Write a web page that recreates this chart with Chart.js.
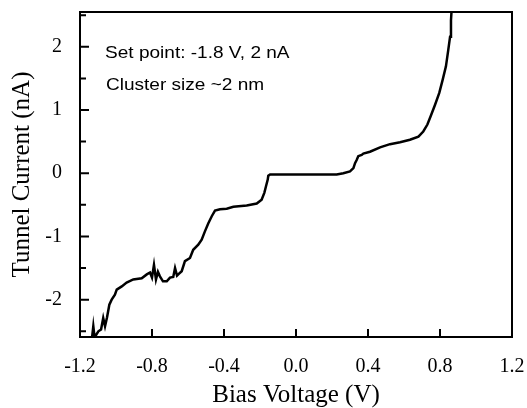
<!DOCTYPE html>
<html><head><meta charset="utf-8">
<script src="https://cdn.jsdelivr.net/npm/chart.js@4"></script>
<style>html,body{margin:0;padding:0;background:#fff}#wrap{width:527px;height:408px}</style>
</head><body><div id="wrap"><canvas id="c" width="527" height="408"></canvas></div>
<script>
const biasVoltage = [
 -1.135,-1.126,-1.118,-1.111,-1.098,-1.083,-1.071,-1.061,-1.050,-1.037,-1.024,-1.006,-0.996,-0.968,-0.941,-0.904,
 -0.857,-0.829,-0.811,-0.800,-0.789,-0.778,-0.767,-0.756,-0.739,-0.718,-0.700,-0.682,-0.672,-0.661,-0.654,-0.635,
 -0.617,-0.589,-0.571,-0.543,-0.524,-0.506,-0.487,-0.468,-0.450,-0.422,-0.385,-0.348,-0.274,-0.218,-0.191,-0.176,
 -0.167,-0.157,-0.154,-0.144,0.226,0.263,0.300,0.319,0.328,0.337,0.346,0.365,0.374,0.411,0.467,0.522,0.578,0.633,
 0.680,0.707,0.730,0.748,0.772,0.796,0.815,0.833,0.846,0.856,0.861,0.867
];
const tunnelCurrent = [
 -2.65,-2.42,-2.62,-2.56,-2.50,-2.47,-2.29,-2.42,-2.28,-2.08,-2.00,-1.92,-1.84,-1.79,-1.73,-1.68,
 -1.66,-1.60,-1.57,-1.65,-1.45,-1.68,-1.56,-1.63,-1.71,-1.71,-1.65,-1.64,-1.50,-1.62,-1.60,-1.55,
 -1.39,-1.34,-1.21,-1.13,-1.05,-0.92,-0.79,-0.68,-0.59,-0.57,-0.56,-0.53,-0.51,-0.48,-0.42,-0.31,
 -0.21,-0.10,-0.04,-0.02,-0.02,0.00,0.03,0.08,0.16,0.21,0.27,0.29,0.31,0.34,0.41,0.46,0.49,0.53,
 0.58,0.66,0.77,0.90,1.08,1.27,1.48,1.69,1.95,2.16,2.42,2.70
];
const xTickValues = [-1.2,-0.8,-0.4,0.0,0.4,0.8,1.2];
const yTickValues = [-2,-1,0,1,2];
const yMinorTickValues = [-2.5,-1.5,-0.5,0.5,1.5,2.5];
const noteLabels = ["Set point: -1.8 V, 2 nA","Cluster size ~2 nm"];
const noteX = [-1.061,-1.056];
const noteY = [1.82,1.32];

const serif = '"Liberation Serif","Times New Roman",serif';

const frameAndTicks = {
  id:'frameAndTicks',
  afterDraw(chart){
    const {ctx, chartArea:a, scales:{x,y}} = chart;
    ctx.save();
    ctx.strokeStyle='#000';
    ctx.lineWidth=2;
    ctx.strokeRect(a.left,a.top,a.right-a.left,a.bottom-a.top);
    ctx.beginPath();
    xTickValues.forEach(v=>{const p=x.getPixelForValue(v);ctx.moveTo(p,a.bottom);ctx.lineTo(p,a.bottom-8);});
    yTickValues.forEach(v=>{const p=y.getPixelForValue(v);ctx.moveTo(a.left,p);ctx.lineTo(a.left+9,p);});
    yMinorTickValues.forEach(v=>{const p=y.getPixelForValue(v);ctx.moveTo(a.left,p);ctx.lineTo(a.left+6,p);});
    ctx.stroke();
    ctx.fillStyle='#000';
    ctx.font='17px "Liberation Sans", Arial, sans-serif';
    ctx.textBaseline='alphabetic';
    ctx.textAlign='left';
    noteLabels.forEach((t,i)=>{
      ctx.save();
      ctx.translate(x.getPixelForValue(noteX[i]),y.getPixelForValue(noteY[i]));
      ctx.scale(1.12,1);
      ctx.fillText(t,0,0);
      ctx.restore();
    });
    ctx.restore();
  }
};

new Chart(document.getElementById('c'),{
  type:'scatter',
  data:{datasets:[{
    data:biasVoltage.map((v,i)=>({x:v,y:tunnelCurrent[i]})),
    showLine:true,borderColor:'#000',borderWidth:2.5,pointRadius:0,tension:0,fill:false
  }]},
  options:{
    responsive:false,animation:false,devicePixelRatio:1,
    layout:{padding:{top:12,right:15,left:0,bottom:0}},
    plugins:{legend:{display:false},tooltip:{enabled:false}},
    scales:{
      x:{type:'linear',min:-1.2,max:1.2,
        afterBuildTicks:s=>{s.ticks=xTickValues.map(v=>({value:v}));},
        afterFit:s=>{s.height=71;s.paddingLeft=0;s.paddingRight=0;s.paddingTop=0;s.paddingBottom=0;},
        grid:{display:false},border:{display:false},
        ticks:{autoSkip:false,maxRotation:0,color:'#000',padding:10,
          font:{family:serif,size:20},callback:v=>Number(v).toFixed(1)},
        title:{display:true,text:'Bias Voltage (V)',color:'#000',
          font:{family:serif,size:25,lineHeight:1},padding:{top:0,bottom:0}}
      },
      y:{type:'linear',min:-2.59,max:2.55,
        afterBuildTicks:s=>{s.ticks=yTickValues.map(v=>({value:v}));},
        afterFit:s=>{s.width=80;s.paddingLeft=0;s.paddingRight=0;s.paddingTop=0;s.paddingBottom=0;},
        grid:{display:false},border:{display:false},
        ticks:{autoSkip:false,color:'#000',padding:10,
          font:{family:serif,size:20},callback:v=>String(v)},
        title:{display:true,text:'Tunnel Current (nA)',color:'#000',
          font:{family:serif,size:25,lineHeight:1},padding:{top:10,bottom:0}}
      }
    }
  },
  plugins:[frameAndTicks]
});
</script>
</body></html>
